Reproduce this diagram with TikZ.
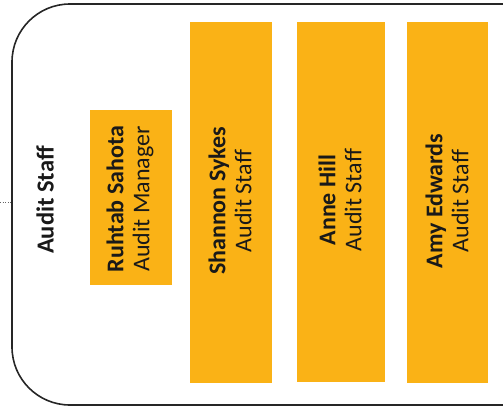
\documentclass[tikz,border=0pt]{standalone}
\usepackage{fontspec}
\setmainfont{Carlito}
\begin{document}
\begin{tikzpicture}[x=1pt,y=-1pt,
  boxtext/.style={rotate=90, align=center, text=black!90, font=\fontsize{24}{26}\selectfont},
  frame/.style={draw=black!85, line width=1.6pt, rounded corners=58pt}]
\definecolor{boxorange}{RGB}{250,178,22}
\useasboundingbox (0,0) rectangle (503,415);
\begin{scope}
\clip (0,0) rectangle (503,415);
\draw[frame] (12,4) rectangle (580,405);
\end{scope}
\coordinate (lefttick) at (0,202);
\coordinate (frameleft) at (12,202);
\draw[black!60, dotted, line width=0.6pt] (lefttick) -- (frameleft);
\node[boxtext, font=\fontsize{24.5}{26}\selectfont\bfseries] (title) at (45,200) {Audit Staff};
\fill[boxorange] (90,110) rectangle (172,285);
\fill[boxorange] (190,22) rectangle (272,383);
\fill[boxorange] (297,22) rectangle (385,382);
\fill[boxorange] (407,22) rectangle (488,383);
\node[boxtext] (ruhtab) at (130,199) {\textbf{Ruhtab Sahota}\\Audit Manager};
\node[boxtext] (shannon) at (230,201) {\textbf{Shannon Sykes}\\Audit Staff};
\node[boxtext] (anne) at (340,200) {\textbf{Anne Hill}\\Audit Staff};
\node[boxtext] (amy) at (447,201) {\textbf{Amy Edwards}\\Audit Staff};
\end{tikzpicture}
\end{document}
